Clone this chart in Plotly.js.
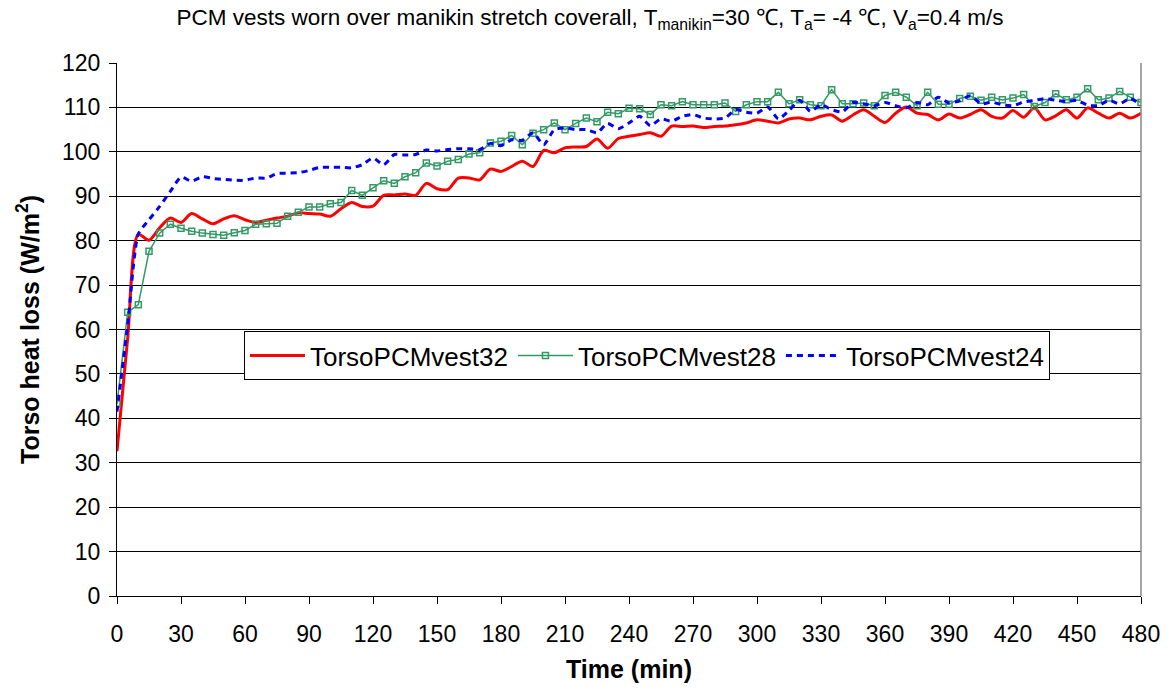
<!DOCTYPE html>
<html>
<head>
<meta charset="utf-8">
<script src="https://cdn.plot.ly/plotly-3.0.1.min.js"></script>
<style>html,body{margin:0;padding:0;background:#fff;}#chart{width:1173px;height:695px;}</style>
</head>
<body>
<div id="chart"></div>
<script>
// Time in minutes (every 5 min, 0..480)
const timeMin = [0,5,10,15,20,25,30,35,40,45,50,55,60,65,70,75,80,85,90,95,100,105,110,115,120,125,130,135,140,145,150,155,160,165,170,175,180,185,190,195,200,205,210,215,220,225,230,235,240,245,250,255,260,265,270,275,280,285,290,295,300,305,310,315,320,325,330,335,340,345,350,355,360,365,370,375,380,385,390,395,400,405,410,415,420,425,430,435,440,445,450,455,460,465,470,475,480];

const torsoPCMvest32 = [32.6,58,81.4,80.1,82.9,85.1,84.1,86.1,84.9,83.8,84.9,85.6,84.7,84.1,84.6,85.1,85.5,86.3,86.1,86.0,85.5,87.2,88.6,87.7,87.8,90.2,90.3,90.5,90.2,92.9,91.7,91.5,94.1,94.1,93.7,96.1,95.6,96.7,97.9,96.7,100.3,99.8,100.9,101.1,101.2,102.9,100.8,103.0,103.5,103.9,104.3,103.5,105.8,105.7,105.8,105.5,105.7,105.8,106.1,106.5,107.2,106.9,106.5,107.4,107.6,107.2,108.0,108.3,106.9,108.3,109.5,108.0,106.6,108.7,110.1,108.7,108.4,107.2,108.5,107.6,108.4,109.5,108.0,107.6,109.3,107.8,109.9,107.2,108.1,109.5,107.6,109.9,108.7,107.6,108.7,107.6,108.7];

const torsoPCMvest28 = [43.2,63.9,65.6,77.6,81.7,83.7,82.8,82.1,81.7,81.4,81.2,81.8,82.3,83.7,83.8,83.9,85.5,86.4,87.6,87.6,88.3,88.6,91.3,90.2,91.9,93.5,92.9,94.4,95.3,97.5,96.8,97.9,98.3,99.5,99.8,102.0,102.4,103.7,101.6,104.2,105.0,106.5,105.0,106.4,107.6,106.8,108.9,108.6,109.8,109.7,108.4,110.6,110.4,111.3,110.6,110.6,110.6,111.0,109.1,110.6,111.3,111.3,113.4,110.8,111.7,110.6,110.4,114.0,110.8,110.8,111.0,110.4,112.7,113.4,112.3,110.4,113.4,110.7,110.7,112.0,112.5,111.6,112.3,111.7,112.1,112.9,110.2,111.1,113.1,111.7,112.3,114.2,111.7,112.1,113.6,112.3,111.1];

const torsoPCMvest24 = [41.5,61,81.5,84.7,87.7,91.1,94.3,93.4,94.4,94.0,93.8,93.6,93.6,94.1,94.1,95.1,95.2,95.3,95.8,96.5,96.5,96.5,96.4,97.1,98.6,97.1,99.4,99.3,99.4,100.4,100.2,100.5,100.7,100.7,100.5,101.9,101.4,102.7,102.6,104.3,101.6,105.0,105.4,105.0,105.0,104.3,106.4,105.2,106.5,108.0,105.9,107.4,106.9,108.0,108.4,107.6,107.4,107.6,109.5,108.9,108.7,110.1,107.4,109.3,111.6,109.1,110.6,109.5,109.0,111.1,110.8,110.4,111.1,110.4,109.9,111.1,110.6,112.3,111.0,111.5,112.6,110.8,111.2,110.6,110.4,111.2,111.6,112.0,111.6,111.3,111.6,110.5,110.4,111.6,110.8,112.0,110.5];

const seriesNames = ["TorsoPCMvest32","TorsoPCMvest28","TorsoPCMvest24"];
const xTickVals = [0,30,60,90,120,150,180,210,240,270,300,330,360,390,420,450,480];
const yTickVals = [0,10,20,30,40,50,60,70,80,90,100,110,120];

const FONT = '"Liberation Sans", Arial, Helvetica, sans-serif';

const traces = [
  {
    x: timeMin, y: torsoPCMvest32, name: seriesNames[0], type: 'scatter', mode: 'lines',
    line: {color: '#ff0000', width: 3, shape: 'spline', smoothing: 0.8}
  },
  {
    x: timeMin, y: torsoPCMvest28, name: seriesNames[1], type: 'scatter', mode: 'lines+markers',
    line: {color: '#339966', width: 1.5},
    marker: {symbol: 'square-open', size: 6, color: '#339966', line: {width: 1.5, color: '#339966'}}
  },
  {
    x: timeMin, y: torsoPCMvest24, name: seriesNames[2], type: 'scatter', mode: 'lines',
    line: {color: '#0000ff', width: 3, dash: '6px,5px', shape: 'spline', smoothing: 0.6}
  }
];

const layout = {
  width: 1173, height: 695,
  paper_bgcolor: '#ffffff', plot_bgcolor: '#ffffff',
  margin: {l: 117, r: 32, t: 63, b: 99},
  font: {family: FONT, color: '#000000', size: 22},
  title: {
    text: 'PCM vests worn over manikin stretch coverall, T<sub>manikin</sub>=30 ℃, T<sub>a</sub>= -4 ℃, V<sub>a</sub>=0.4 m/s',
    font: {family: FONT, size: 22.5, color: '#000'},
    x: 0.503, xref: 'container', xanchor: 'center',
    y: 0.975, yref: 'container', yanchor: 'middle'
  },
  xaxis: {
    range: [0, 480], tickvals: xTickVals, ticktext: xTickVals.map(String),
    showgrid: false, zeroline: false,
    showline: true, linecolor: '#000', linewidth: 1,
    ticks: 'outside', ticklen: 7, tickcolor: '#000', tickwidth: 1,
    ticklabelstandoff: 10,
    tickfont: {family: FONT, size: 23, color: '#000'},
    title: {text: '<b>Time (min)</b>', font: {family: FONT, size: 25, color: '#000'}, standoff: 14}
  },
  yaxis: {
    range: [0, 120], tickvals: yTickVals, ticktext: yTickVals.map(String),
    showgrid: true, gridcolor: '#000', gridwidth: 1,
    zeroline: false,
    showline: true, linecolor: '#000', linewidth: 1,
    ticks: 'outside', ticklen: 7, tickcolor: '#000', tickwidth: 1,
    ticklabelstandoff: 4,
    tickfont: {family: FONT, size: 23, color: '#000'},
    title: {text: '<b>Torso heat loss (W/m<sup>2</sup>)</b>', font: {family: FONT, size: 25, color: '#000'}, standoff: 15}
  },
  showlegend: true,
  legend: {
    orientation: 'h', x: 0.124, xanchor: 'left', y: 0.497, yanchor: 'top',
    bgcolor: '#ffffff', bordercolor: '#000', borderwidth: 1,
    font: {family: FONT, size: 26, color: '#000'},
    itemwidth: 55, tracegroupgap: 0
  },
  shapes: [
    {type: 'line', xref: 'paper', yref: 'paper', x0: 1, x1: 1, y0: 0, y1: 1, line: {color: '#888', width: 1.5}}
  ]
};

Plotly.newPlot('chart', traces, layout, {displayModeBar: false, staticPlot: true});
</script>
</body>
</html>
